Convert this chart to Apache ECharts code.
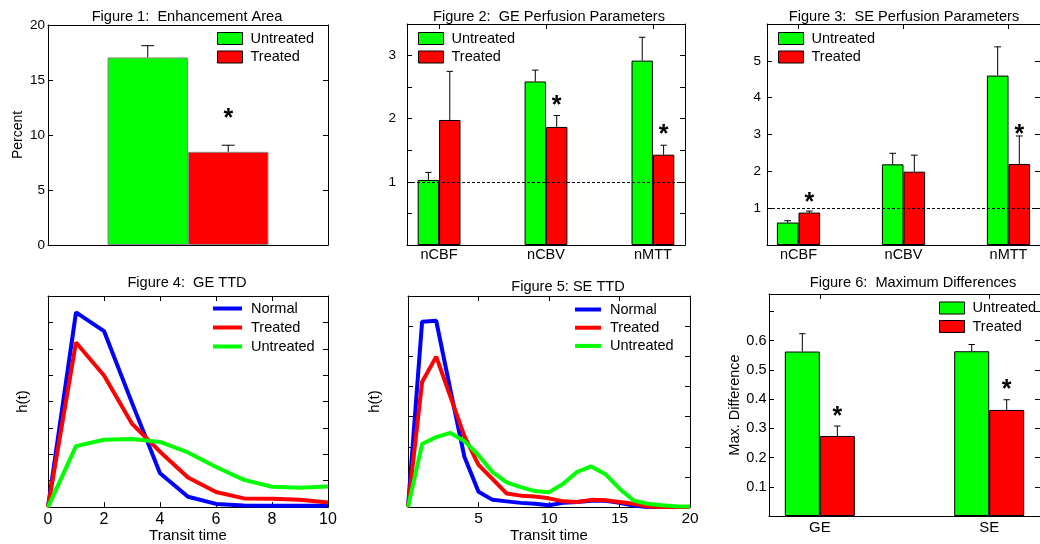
<!DOCTYPE html>
<html>
<head>
<meta charset="utf-8">
<script src="https://cdn.jsdelivr.net/npm/echarts@6.0.0/dist/echarts.min.js"></script>
<style>html,body{margin:0;padding:0;background:#fff}#c{width:1040px;height:544px}</style>
</head>
<body>
<div id="c"></div>
<script>
// ---------- Figure 1: Enhancement Area ----------
const areaUntreated = [17.05];
const areaUntreatedErr = [18.12];
const areaTreated = [8.47];
const areaTreatedErr = [9.07];
const areaStars = [11.97];

// ---------- Figures 2/3: Perfusion parameters ----------
const perfusionCategories = ['nCBF', 'nCBV', 'nMTT'];
const geUntreated = [1.03, 2.59, 2.92];
const geUntreatedErr = [1.15, 2.77, 3.29];
const geTreated = [1.98, 1.87, 1.43];
const geTreatedErr = [2.75, 2.05, 1.58];
const geStars = [null, 2.30, 1.83];

const seUntreated = [0.61, 2.19, 4.60];
const seUntreatedErr = [0.66, 2.49, 5.38];
const seTreated = [0.88, 1.99, 2.20];
const seTreatedErr = [0.92, 2.44, 2.96];
const seStars = [1.29, null, 3.14];

// ---------- Figure 4: GE TTD ----------
const geTime = [0, 1, 2, 3, 4, 5, 6, 7, 8, 9, 10];
const geTtdNormal = [0, 7.38, 6.67, 3.95, 1.28, 0.39, 0.12, 0.06, 0.05, 0.05, 0.05];
const geTtdTreated = [0, 6.24, 4.99, 3.16, 2.10, 1.12, 0.57, 0.33, 0.32, 0.28, 0.17];
const geTtdUntreated = [0, 2.31, 2.55, 2.58, 2.47, 2.07, 1.52, 1.03, 0.77, 0.73, 0.78];

// ---------- Figure 5: SE TTD ----------
const seTime = [0, 1, 2, 3, 4, 5, 6, 7, 8, 9, 10, 11, 12, 13, 14, 15, 16, 17, 18, 19, 20];
const seTtdNormal = [0, 6.15, 6.18, 3.90, 1.67, 0.51, 0.24, 0.19, 0.14, 0.11, 0.06, 0.14, 0.17, 0.21, 0.21, 0.14, 0.05, 0, 0, 0, 0];
const seTtdTreated = [0, 4.15, 4.99, 3.67, 2.35, 1.40, 0.93, 0.45, 0.38, 0.35, 0.29, 0.19, 0.17, 0.24, 0.23, 0.17, 0.11, 0.02, 0, 0, 0];
const seTtdUntreated = [0, 2.09, 2.32, 2.46, 2.19, 1.72, 1.16, 0.82, 0.66, 0.53, 0.49, 0.77, 1.17, 1.35, 1.09, 0.61, 0.22, 0.11, 0.06, 0.03, 0.02];

// ---------- Figure 6: Maximum differences ----------
const maxDiffCategories = ['GE', 'SE'];
const maxDiffUntreated = [0.563, 0.564];
const maxDiffUntreatedErr = [0.624, 0.587];
const maxDiffTreated = [0.274, 0.363];
const maxDiffTreatedErr = [0.308, 0.398];
const maxDiffStars = [0.36, 0.452];

// ---------- Titles ----------
const titles = ['Figure 1:  Enhancement Area', 'Figure 2:  GE Perfusion Parameters', 'Figure 3:  SE Perfusion Parameters',
                'Figure 4:  GE TTD', 'Figure 5: SE TTD', 'Figure 6:  Maximum Differences'];

const GREEN = '#00ff00', RED = '#ff0000', BLUE = '#0000ff';
const FONT = 'Liberation Sans, Arial, Helvetica, sans-serif';

const chart = echarts.init(document.getElementById('c'), null, {renderer: 'canvas'});

const grids = [
  {left: 48, top: 25, width: 280, height: 220},
  {left: 407, top: 24, width: 278, height: 221},
  {left: 767, top: 24, width: 280, height: 221},
  {left: 48, top: 296, width: 280, height: 219},
  {left: 408, top: 296, width: 282, height: 220},
  {left: 769, top: 294, width: 281, height: 222}
];

const xAxes = [];
const yAxes = [];
const lineBlack = () => ({show: true, onZero: false, lineStyle: {color: '#000', width: 1}});

function addX(g, cfg) {
  const base = {type: 'value', gridIndex: g, min: cfg.min, max: cfg.max, splitLine: {show: false}};
  if (cfg.interval) base.interval = cfg.interval;
  const tick = () => {
    const t = {show: cfg.ticks !== false, inside: true, length: 5, lineStyle: {color: '#000'}};
    if (cfg.customValues) t.customValues = cfg.customValues;
    return t;
  };
  const lab = {show: cfg.labels !== false, margin: cfg.margin ?? 4, color: '#000', fontSize: cfg.fontSize ?? 14, fontFamily: FONT,
               formatter: cfg.formatter, showMinLabel: true, showMaxLabel: true};
  if (cfg.customValues) lab.customValues = cfg.customValues;
  xAxes.push(Object.assign({}, base, {position: 'bottom', axisLine: lineBlack(), axisTick: tick(), axisLabel: lab,
    name: cfg.name || '', nameLocation: 'middle', nameGap: cfg.nameGap ?? 14,
    nameTextStyle: {color: '#000', fontSize: 15, fontFamily: FONT, verticalAlign: 'top'}}));
  xAxes.push(Object.assign({}, base, {position: 'top', axisLine: lineBlack(), axisTick: tick(), axisLabel: {show: false}}));
}
function addY(g, cfg) {
  const base = {type: 'value', gridIndex: g, min: cfg.min, max: cfg.max, interval: cfg.interval, splitLine: {show: false}};
  const tick = () => ({show: true, inside: true, length: 5, lineStyle: {color: '#000'}});
  yAxes.push(Object.assign({}, base, {position: 'left', axisLine: lineBlack(), axisTick: tick(),
    axisLabel: {show: cfg.labels !== false, margin: cfg.margin ?? 3, color: '#000', fontSize: cfg.fontSize ?? 13.5, fontFamily: FONT, formatter: cfg.formatter},
    name: cfg.name || '', nameLocation: 'middle', nameGap: cfg.nameGap ?? 20,
    nameTextStyle: {color: '#000', fontSize: cfg.nameSize ?? 14, fontFamily: FONT}}));
  yAxes.push(Object.assign({}, base, {position: 'right', axisLine: lineBlack(), axisTick: tick(), axisLabel: {show: false}}));
}

// Panel 1
addX(0, {min: 0, max: 2, ticks: false, labels: false});
addY(0, {min: 0, max: 20, interval: 5, name: 'Percent', nameGap: 23, margin: 3});
// Panel 2
addX(1, {min: 0.7, max: 3.3, customValues: [1, 2, 3], formatter: v => perfusionCategories[Math.round(v) - 1], fontSize: 14.5, margin: 2});
addY(1, {min: 0, max: 3.5, interval: 0.5, margin: 11, formatter: v => (v > 0 && Math.abs(v - Math.round(v)) < 1e-6) ? String(Math.round(v)) : ''});
// Panel 3
addX(2, {min: 0.7, max: 3.3, customValues: [1, 2, 3], formatter: v => perfusionCategories[Math.round(v) - 1], fontSize: 14.5, margin: 2});
addY(2, {min: 0, max: 6, interval: 1, margin: 6, formatter: v => (v > 0 && v < 6) ? String(v) : ''});
// Panel 4
addX(3, {min: 0, max: 10, interval: 2, fontSize: 16, margin: 4, name: 'Transit time', nameGap: 14});
addY(3, {min: 0, max: 8, interval: 1, labels: false, name: 'h(t)', nameGap: 18, nameSize: 15});
// Panel 5
addX(4, {min: 0, max: 20, interval: 5, fontSize: 15.5, margin: 4, name: 'Transit time', nameGap: 14, formatter: v => v === 0 ? '' : String(v)});
addY(4, {min: 0, max: 7, interval: 1, labels: false, name: 'h(t)', nameGap: 26, nameSize: 15});
// Panel 6
addX(5, {min: 0.7, max: 2.3, customValues: [1, 2], formatter: v => maxDiffCategories[Math.round(v) - 1], fontSize: 15, margin: 4});
addY(5, {min: 0, max: 0.76, interval: 0.1, margin: 2.5, fontSize: 14.5, name: 'Max. Difference', nameGap: 24, nameSize: 14.5,
         formatter: v => (v > 0.05 && v < 0.65) ? v.toFixed(1) : ''});

const series = [];

function barPair(g, xs, unt, untErr, trt, trtErr, stars, barW, cap, border, suffix, refLine) {
  const xi = 2 * g, yi = 2 * g;
  const bs = {type: 'bar', xAxisIndex: xi, yAxisIndex: yi, barWidth: barW, barGap: '0%', silent: true};
  series.push(Object.assign({}, bs, {name: 'Untreated_' + suffix, data: xs.map((x, i) => [x, unt[i]]),
    itemStyle: {color: GREEN, borderColor: border, borderWidth: 1}}));
  const tr = Object.assign({}, bs, {name: 'Treated_' + suffix, data: xs.map((x, i) => [x, trt[i]]),
    itemStyle: {color: RED, borderColor: border, borderWidth: 1}});
  if (refLine !== undefined) {
    tr.markLine = {silent: true, symbol: 'none', label: {show: false},
      lineStyle: {type: [3, 2], color: '#000', width: 1}, data: [{yAxis: refLine}]};
  }
  series.push(tr);
  const errSeries = (vals, errs, off) => ({
    type: 'custom', xAxisIndex: xi, yAxisIndex: yi, silent: true, z: 3,
    data: xs.map((x, i) => [x, vals[i], errs[i]]),
    renderItem: (params, api) => {
      const a = api.coord([api.value(0), api.value(1)]);
      const b = api.coord([api.value(0), api.value(2)]);
      const x = a[0] + off;
      const st = {stroke: '#000', lineWidth: 1};
      return {type: 'group', children: [
        {type: 'line', shape: {x1: x, y1: a[1], x2: x, y2: b[1]}, style: st},
        {type: 'line', shape: {x1: x - cap, y1: b[1], x2: x + cap, y2: b[1]}, style: st}
      ]};
    }
  });
  series.push(errSeries(unt, untErr, -barW / 2));
  series.push(errSeries(trt, trtErr, barW / 2));
  const starData = [];
  xs.forEach((x, i) => { if (stars[i] !== null) starData.push([x, stars[i]]); });
  series.push({
    type: 'custom', xAxisIndex: xi, yAxisIndex: yi, silent: true, z: 4, data: starData,
    renderItem: (params, api) => {
      const p = api.coord([api.value(0), api.value(1)]);
      return {type: 'text', x: p[0] + barW / 2, y: p[1] + 6,
        style: {text: '*', fill: '#000', font: 'bold 25px ' + FONT, align: 'center', verticalAlign: 'middle'}};
    }
  });
}

barPair(0, [1], areaUntreated, areaUntreatedErr, areaTreated, areaTreatedErr, areaStars, 80.5, 6.5, '#888', '1');
barPair(1, [1, 2, 3], geUntreated, geUntreatedErr, geTreated, geTreatedErr, geStars, 21.4, 3.2, '#000', '2', 1);
barPair(2, [1, 2, 3], seUntreated, seUntreatedErr, seTreated, seTreatedErr, seStars, 21.6, 3.4, '#000', '3', 1);
barPair(5, [1, 2], maxDiffUntreated, maxDiffUntreatedErr, maxDiffTreated, maxDiffTreatedErr, maxDiffStars, 35, 3.2, '#000', '6');

function ttd(g, t, normal, treated, untreated, suffix) {
  const ls = {type: 'line', xAxisIndex: 2 * g, yAxisIndex: 2 * g, showSymbol: false, symbol: 'none', silent: true, clip: true};
  [['Normal', normal, BLUE], ['Treated', treated, RED], ['Untreated', untreated, GREEN]].forEach(([n, d, c]) => {
    series.push(Object.assign({}, ls, {name: n + '_' + suffix, data: t.map((x, i) => [x, d[i]]),
      itemStyle: {color: c}, lineStyle: {color: c, width: 4}}));
  });
}
ttd(3, geTime, geTtdNormal, geTtdTreated, geTtdUntreated, '4');
ttd(4, seTime, seTtdNormal, seTtdTreated, seTtdUntreated, '5');

const strip = n => n.split('_')[0];
const barLegend = (names, left, top) => ({
  data: names, left: left, top: top, orient: 'vertical', icon: 'rect', itemWidth: 25, itemHeight: 12, itemGap: 3.5,
  padding: 0, selectedMode: false, formatter: strip,
  itemStyle: {borderColor: '#000', borderWidth: 1},
  textStyle: {fontSize: 14.5, lineHeight: 14, color: '#000', fontFamily: FONT, padding: [0, 0, 0, 3]}
});
const lineLegend = (names, left, top, w, gap) => ({
  data: names, left: left, top: top, orient: 'vertical', icon: 'rect', itemWidth: w, itemHeight: 4, itemGap: gap,
  padding: 0, selectedMode: false, formatter: strip, itemStyle: {borderWidth: 0},
  textStyle: {fontSize: 14.5, lineHeight: 14, color: '#000', fontFamily: FONT, padding: [0, 0, 0, 4]}
});

const titleCenters = [[187, 9], [549, 9], [904, 9], [187, 275.5], [568, 279], [913, 275.5]];

const option = {
  animation: false,
  textStyle: {fontFamily: FONT},
  title: titles.map((t, i) => ({text: t, left: titleCenters[i][0], top: titleCenters[i][1], textAlign: 'center', padding: 0,
    textStyle: {fontSize: 14.6, fontWeight: 'normal', color: '#000', fontFamily: FONT}})),
  grid: grids,
  xAxis: xAxes,
  yAxis: yAxes,
  legend: [
    barLegend(['Untreated_1', 'Treated_1'], 217, 31),
    barLegend(['Untreated_2', 'Treated_2'], 418, 31),
    barLegend(['Untreated_3', 'Treated_3'], 778, 31),
    lineLegend(['Normal_4', 'Treated_4', 'Untreated_4'], 213, 301, 29, 4),
    lineLegend(['Normal_5', 'Treated_5', 'Untreated_5'], 575, 302, 26, 3.2),
    barLegend(['Untreated_6', 'Treated_6'], 939, 300.5)
  ],
  series: series
};
chart.setOption(option);
</script>
</body>
</html>
